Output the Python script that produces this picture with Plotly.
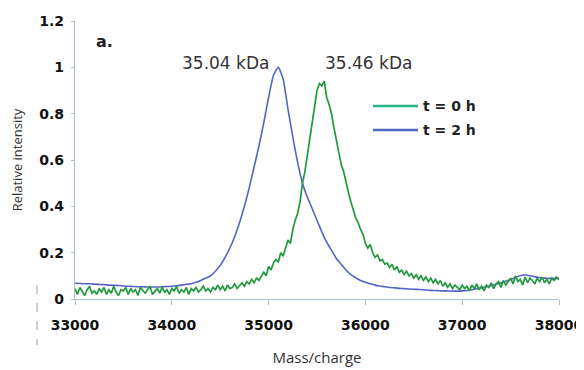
import plotly.graph_objects as go

# ---- data ----
mass_green = [33000 + 25 * i for i in range(201)]
green_t0 = [
    0.045, 0.02, 0.05, 0.03, 0.015, 0.04, 0.055, 0.025, 0.035, 0.02,
    0.045, 0.03, 0.05, 0.02, 0.04, 0.025, 0.055, 0.03, 0.015, 0.04,
    0.035, 0.05, 0.02, 0.045, 0.03, 0.04, 0.015, 0.05, 0.035, 0.025,
    0.04, 0.055, 0.02, 0.035, 0.045, 0.025, 0.05, 0.03, 0.04, 0.02,
    0.045, 0.035, 0.055, 0.025, 0.04, 0.03, 0.05, 0.02, 0.045, 0.035,
    0.05, 0.03, 0.04, 0.055, 0.035, 0.045, 0.03, 0.05, 0.04, 0.06,
    0.04, 0.055, 0.035, 0.06, 0.045, 0.05, 0.065, 0.045, 0.06, 0.07,
    0.055, 0.075, 0.065, 0.085, 0.07, 0.09, 0.08, 0.1, 0.115, 0.1,
    0.14, 0.125, 0.155, 0.17, 0.16, 0.2, 0.185, 0.22, 0.255, 0.24,
    0.3, 0.34, 0.37, 0.42, 0.5, 0.55, 0.62, 0.7, 0.78, 0.84,
    0.9, 0.93, 0.92, 0.94, 0.87, 0.84, 0.8, 0.74, 0.69, 0.63,
    0.58, 0.55, 0.5, 0.46, 0.42, 0.38, 0.35, 0.33, 0.3, 0.28,
    0.24, 0.22, 0.235, 0.2, 0.18, 0.19, 0.165, 0.17, 0.15, 0.155,
    0.135, 0.15, 0.125, 0.14, 0.115, 0.125, 0.105, 0.12, 0.1, 0.11,
    0.09, 0.105, 0.085, 0.1, 0.08, 0.095, 0.075, 0.09, 0.07, 0.085,
    0.065, 0.08, 0.055, 0.07, 0.05, 0.065, 0.045, 0.06, 0.05, 0.04,
    0.06, 0.045, 0.055, 0.035, 0.06, 0.045, 0.065, 0.04, 0.055, 0.035,
    0.06, 0.05, 0.07, 0.045, 0.065, 0.075, 0.05, 0.08, 0.06, 0.075,
    0.09, 0.065, 0.1, 0.075, 0.085, 0.06, 0.095, 0.07, 0.09, 0.08,
    0.065, 0.09, 0.075, 0.095, 0.07, 0.085, 0.065, 0.09, 0.08, 0.095,
    0.085,
]

mass_blue = [33000 + 50 * i for i in range(101)]
blue_t2 = [
    0.068, 0.067, 0.066, 0.066, 0.064, 0.063, 0.062, 0.06, 0.059, 0.058,
    0.056, 0.055, 0.054, 0.053, 0.053, 0.052, 0.052, 0.052, 0.053, 0.054,
    0.055, 0.057, 0.06, 0.063, 0.066, 0.072, 0.08, 0.09, 0.1, 0.12,
    0.145, 0.18, 0.22, 0.27, 0.33, 0.4, 0.48, 0.57, 0.66, 0.76,
    0.87, 0.965, 1.0, 0.95, 0.82, 0.7, 0.59, 0.5, 0.44, 0.39,
    0.34, 0.29, 0.245, 0.21, 0.175, 0.15, 0.125, 0.105, 0.092, 0.08,
    0.072, 0.066, 0.06, 0.056, 0.053, 0.05, 0.048, 0.046, 0.045, 0.043,
    0.042, 0.041, 0.04, 0.038, 0.037, 0.036, 0.035, 0.035, 0.034, 0.034,
    0.035, 0.037, 0.04, 0.044, 0.048, 0.053, 0.058, 0.064, 0.07, 0.077,
    0.085, 0.093, 0.1, 0.105, 0.1, 0.096, 0.092, 0.09, 0.089, 0.089,
    0.088,
]

series_names = ["t = 0 h", "t = 2 h"]
x_ticks = [33000, 34000, 35000, 36000, 37000, 38000]
y_ticks = [0, 0.2, 0.4, 0.6, 0.8, 1.0, 1.2]
y_tick_labels = ["0", "0.2", "0.4", "0.6", "0.8", "1", "1.2"]
peak_labels = ["35.04 kDa", "35.46 kDa"]
peak_label_pos = [(34550, 1.02), (36027, 1.02)]

GREEN = "#22993f"
BLUE = "#5464c6"
LEG_GREEN = "#2ab387"
LEG_BLUE = "#4f6cc2"
AXIS = "#a9bfd2"
TICKFONT = dict(family="DejaVu Sans", size=14, color="#111111", weight=700)

# plot area in window pixels (page body has an 8px margin)
PL, PT, PW, PH = 75, 21, 484, 278
PB = PT + PH


def px_x(x):
    return (x - PL) / PW


def px_y(y):
    return (PB - y) / PH


fig = go.Figure()
fig.add_trace(go.Scatter(x=mass_blue, y=blue_t2, mode="lines", name=series_names[1],
                         line=dict(color=BLUE, width=1.6, shape="spline", smoothing=0.5),
                         showlegend=False))
fig.add_trace(go.Scatter(x=mass_green, y=green_t0, mode="lines", name=series_names[0],
                         line=dict(color=GREEN, width=1.7), showlegend=False))

# legend drawn as line samples + labels
leg_rows = [(series_names[0], LEG_GREEN, 106), (series_names[1], LEG_BLUE, 130)]
for name, col, ypx in leg_rows:
    yp = px_y(ypx)
    fig.add_shape(type="line", xref="paper", yref="paper",
                  x0=px_x(373), x1=px_x(418), y0=yp, y1=yp,
                  line=dict(color=col, width=2.5))
    fig.add_annotation(x=px_x(421), y=yp, xref="paper", yref="paper",
                       xanchor="left", yanchor="middle", text=name, showarrow=False,
                       font=dict(family="DejaVu Sans", size=14, color="#222222", weight=700))

for txt, (px, py) in zip(peak_labels, peak_label_pos):
    fig.add_annotation(x=px, y=py, xref="x", yref="y", text=txt, showarrow=False,
                       font=dict(family="DejaVu Sans", size=17, color="#333333"))

fig.add_annotation(x=px_x(94), y=px_y(30), xref="paper", yref="paper",
                   text="a.", showarrow=False,
                   font=dict(family="DejaVu Sans", size=16, color="#222222", weight=700))

fig.add_shape(type="line", xref="paper", yref="paper", x0=px_x(37), x1=px_x(37),
              y0=px_y(285), y1=px_y(345), line=dict(color="#9aa6b0", width=1, dash="dash"))

W, H, OFF = 584, 370, 8
fig.update_layout(
    width=W - OFF, height=H - OFF,
    margin=dict(l=PL - OFF, r=W - (PL + PW), t=PT - OFF, b=H - PB, autoexpand=False),
    paper_bgcolor="white", plot_bgcolor="white",
    showlegend=False,
    xaxis=dict(range=[33000, 38000], tickvals=x_ticks, ticktext=[str(v) for v in x_ticks],
               automargin=False,
               showgrid=False, zeroline=False, showline=True, linecolor=AXIS, linewidth=1.2,
               ticks="outside", tickcolor=AXIS, ticklen=5, ticklabelstandoff=8,
               tickfont=TICKFONT,
               title=dict(text="Mass/charge", standoff=20,
                          font=dict(family="Open Sans", size=15, color="#333333"))),
    yaxis=dict(range=[0, 1.2], tickvals=y_ticks, ticktext=y_tick_labels,
               automargin=False,
               showgrid=False, zeroline=False, showline=True, linecolor=AXIS, linewidth=1.2,
               ticks="outside", tickcolor=AXIS, ticklen=3, ticklabelstandoff=4,
               tickfont=TICKFONT,
               title=dict(text="Relative intensity", standoff=14,
                          font=dict(family="Open Sans", size=13, color="#333333"))),
)

fig.write_html("out.html")
